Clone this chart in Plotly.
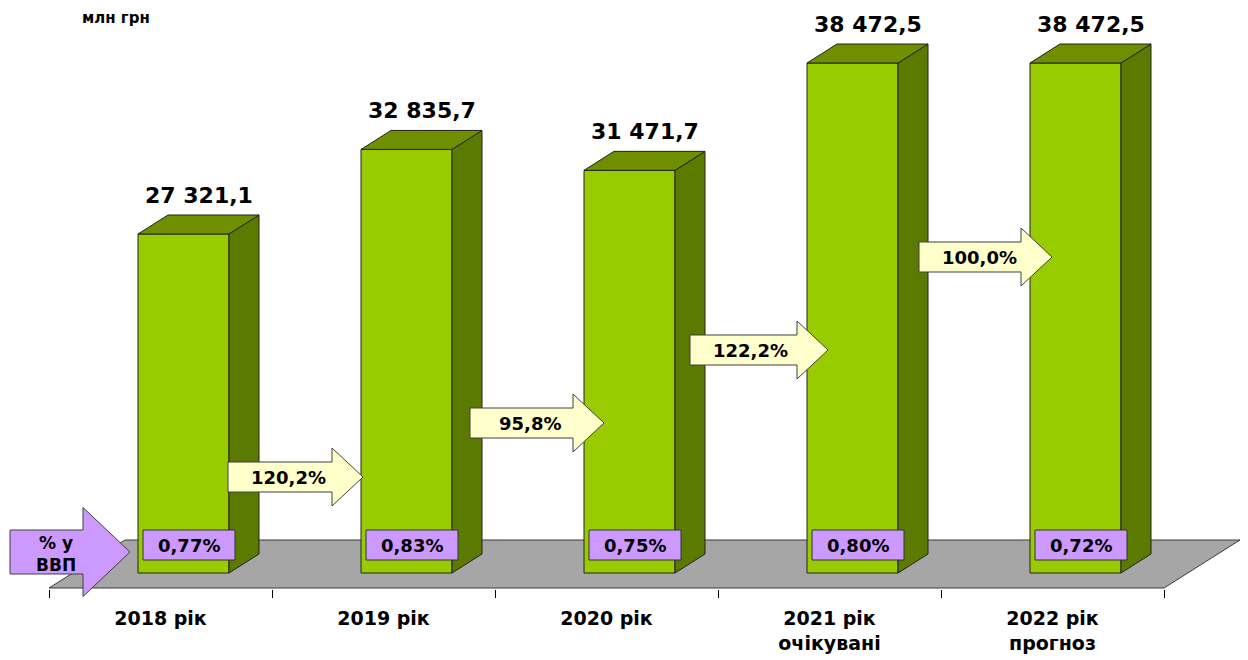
import plotly.graph_objects as go

# ---------------- data ----------------
categories = ["2018 рік", "2019 рік", "2020 рік", "2021 рік<br>очікувані", "2022 рік<br>прогноз"]
values = [27321.1, 32835.7, 31471.7, 38472.5, 38472.5]
growth_pct = [120.2, 95.8, 122.2, 100.0]
gdp_share_pct = [0.77, 0.83, 0.75, 0.80, 0.72]
unit_label = "млн грн"
gdp_label = "% у<br>ВВП"

# ---------------- geometry / style ----------------
PAGE_OFF = 8                       # browser body margin
W, H = 1248 - PAGE_OFF, 660 - PAGE_OFF
PLOT_BOTTOM = 589 - PAGE_OFF       # figure px
CAT_PX = 223
FLOOR_LEFT_PX = 49                 # screen px
BASE_PX = 573                      # screen px
K = 0.015334                       # px per value unit
BASE = 5213                        # value at bar base

FONT = "DejaVu Sans"
FRONT = "#99CC00"
SIDE = "#5B7B00"
TOP = "#6F8F00"
EDGE = "#222222"


def ux(px):
    return (px - FLOOR_LEFT_PX) / CAT_PX - 0.5


def vy(py):
    return BASE + (BASE_PX - py) / K


def pxp(px):
    return (px - PAGE_OFF) / W


def pyp(py):
    return (PLOT_BOTTOM - (py - PAGE_OFF)) / PLOT_BOTTOM


BAR_OFF = ux(138)
BAR_W = 91 / CAT_PX
DX = 30 / CAT_PX
DY = 19 / K


def fmt_val(v):
    return format(v, ",.1f").replace(",", " ").replace(".", ",")


def fmt_pct(p, nd=1):
    return f"{p:.{nd}f}".replace(".", ",") + "%"


fig = go.Figure()

# front faces
xs = [i + BAR_OFF + BAR_W / 2 for i in range(len(values))]
fig.add_trace(go.Bar(
    x=xs, y=[v - BASE for v in values], base=BASE, width=BAR_W,
    marker=dict(color=FRONT, line=dict(color=EDGE, width=1)),
    hoverinfo="skip", showlegend=False,
))

# side and top faces
side_x, side_y, top_x, top_y = [], [], [], []
for i, v in enumerate(values):
    xl = i + BAR_OFF
    xr = xl + BAR_W
    side_x += [xr, xr + DX, xr + DX, xr, xr, None]
    side_y += [BASE, BASE + DY, v + DY, v, BASE, None]
    top_x += [xl, xr, xr + DX, xl + DX, xl, None]
    top_y += [v, v, v + DY, v + DY, v, None]

fig.add_trace(go.Scatter(x=side_x, y=side_y, mode="lines", fill="toself",
                         fillcolor=SIDE, line=dict(color=EDGE, width=1),
                         hoverinfo="skip", showlegend=False))
fig.add_trace(go.Scatter(x=top_x, y=top_y, mode="lines", fill="toself",
                         fillcolor=TOP, line=dict(color=EDGE, width=1),
                         hoverinfo="skip", showlegend=False))

shapes = []

# floor
fl = [(49, 588), (1164, 588), (1240, 540), (125, 540)]
path = "M " + " L ".join(f"{ux(a)},{vy(b)}" for a, b in fl) + " Z"
shapes.append(dict(type="path", xref="x", yref="y", path=path, layer="below",
                   fillcolor="#A6A6A6", line=dict(color="#3a3a3a", width=1)))


def arrow_pts(left, tip, cy, bh, hh, hl):
    return [(left, cy - bh), (tip - hl, cy - bh), (tip - hl, cy - hh), (tip, cy),
            (tip - hl, cy + hh), (tip - hl, cy + bh), (left, cy + bh)]


# growth arrows (left px, tip px, center y px)
growth_pos = [(228, 363, 477), (470, 604, 423), (690, 828, 350), (919, 1052, 257)]
annotations = []
for (left, tip, cy), g in zip(growth_pos, growth_pct):
    pts = arrow_pts(left, tip, cy, 15, 29, 31)
    path = "M " + " L ".join(f"{ux(a)},{vy(b)}" for a, b in pts) + " Z"
    shapes.append(dict(type="path", xref="x", yref="y", path=path, layer="above",
                       fillcolor="#FFFFCC", line=dict(color="#404040", width=1)))
    annotations.append(dict(x=ux(left + 60), y=vy(cy), xref="x", yref="y",
                            xanchor="center", yanchor="middle",
                            text=fmt_pct(g), showarrow=False,
                            font=dict(family=FONT, size=18, color="black", weight="bold")))

# GDP share boxes
for i, s in enumerate(gdp_share_pct):
    fl_px = 138 + CAT_PX * i
    shapes.append(dict(type="rect", xref="x", yref="y",
                       x0=ux(fl_px + 5), x1=ux(fl_px + 97), y0=vy(530), y1=vy(560),
                       layer="above", fillcolor="#CC99FF",
                       line=dict(color="#333333", width=1)))
    annotations.append(dict(x=ux(fl_px + 51), y=vy(545), xref="x", yref="y",
                            xanchor="center", yanchor="middle",
                            text=fmt_pct(s, 2), showarrow=False,
                            font=dict(family=FONT, size=18, color="black", weight="bold")))

# big purple arrow
pts = arrow_pts(10, 130, 552, 22, 44.5, 47)
path = "M " + " L ".join(f"{pxp(a)},{pyp(b)}" for a, b in pts) + " Z"
shapes.append(dict(type="path", xref="paper", yref="paper", path=path, layer="above",
                   fillcolor="#CC99FF", line=dict(color="#404040", width=1)))
annotations.append(dict(x=pxp(56), y=pyp(554), xref="paper", yref="paper",
                        xanchor="center", yanchor="middle",
                        text=gdp_label, showarrow=False,
                        font=dict(family=FONT, size=17, color="black", weight="bold")))

# value labels
for i, v in enumerate(values):
    annotations.append(dict(x=i + BAR_OFF + (BAR_W + DX) / 2, y=v + DY,
                            xref="x", yref="y", xanchor="center", yanchor="bottom", yshift=5,
                            text=fmt_val(v), showarrow=False,
                            font=dict(family=FONT, size=22, color="black", weight="bold")))

# unit label
annotations.append(dict(x=pxp(116), y=pyp(18), xref="paper", yref="paper",
                        xanchor="center", yanchor="middle",
                        text=unit_label, showarrow=False,
                        font=dict(family=FONT, size=15, color="black", weight="bold")))

fig.update_layout(
    width=W, height=H, autosize=False,
    margin=dict(l=0, r=0, t=0, b=H - PLOT_BOTTOM),
    paper_bgcolor="white", plot_bgcolor="white",
    shapes=shapes, annotations=annotations,
    showlegend=False, hovermode=False,
    xaxis=dict(range=[ux(PAGE_OFF), ux(PAGE_OFF + W)], showgrid=False, zeroline=False,
               showline=False,
               tickvals=list(range(len(categories))), ticktext=categories, ticks="",
               ticklabelstandoff=16,
               tickfont=dict(family=FONT, size=19, color="black", weight="bold"),
               minor=dict(tickvals=[i - 0.5 for i in range(len(categories) + 1)],
                          ticks="outside", ticklen=8, tickcolor="black", tickwidth=1,
                          showgrid=False),
               fixedrange=True),
    yaxis=dict(range=[vy(PLOT_BOTTOM + PAGE_OFF), vy(PAGE_OFF)], visible=False,
               showgrid=False, zeroline=False, fixedrange=True),
)

fig.write_html("out.html")
